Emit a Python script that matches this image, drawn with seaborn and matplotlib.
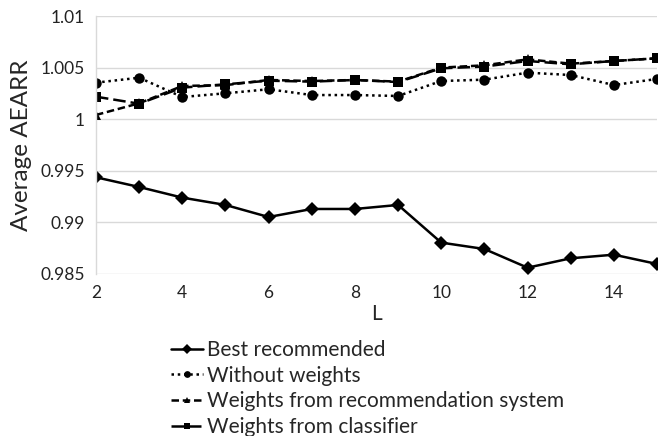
"""Average AEARR versus L for four weighting strategies."""

import matplotlib
matplotlib.use("Agg")
import matplotlib.pyplot as plt
import numpy as np
import pandas as pd
import seaborn as sns

L_values = list(range(2, 16))

best_recommended = [0.99437, 0.99343, 0.99240, 0.99169, 0.99052, 0.99130, 0.99130,
                    0.99169, 0.98804, 0.98742, 0.98561, 0.98652, 0.98687, 0.98597]
without_weights = [1.00354, 1.00402, 1.00215, 1.00251, 1.00290, 1.00234, 1.00234,
                   1.00225, 1.00370, 1.00383, 1.00451, 1.00428, 1.00331, 1.00390]
weights_recsys = [1.00041, 1.00154, 1.00322, 1.00330, 1.00380, 1.00370, 1.00380,
                  1.00364, 1.00500, 1.00522, 1.00580, 1.00538, 1.00564, 1.00590]
weights_classifier = [1.00218, 1.00150, 1.00306, 1.00338, 1.00373, 1.00364, 1.00380,
                      1.00360, 1.00493, 1.00510, 1.00564, 1.00532, 1.00564, 1.00590]

series_names = ["Best recommended", "Without weights",
                "Weights from recommendation system", "Weights from classifier"]
series_values = [best_recommended, without_weights, weights_recsys, weights_classifier]

y_ticks = [0.985, 0.99, 0.995, 1.0, 1.005, 1.01]
y_tick_labels = ["0.985", "0.99", "0.995", "1", "1.005", "1.01"]
x_ticks = [2, 4, 6, 8, 10, 12, 14]

df = pd.concat(
    [pd.DataFrame({"L": L_values, "AEARR": vals, "series": name})
     for name, vals in zip(series_names, series_values)],
    ignore_index=True,
)

sns.set_theme(style="white")
plt.rcParams["font.family"] = ["Lato", "DejaVu Sans"]

fig = plt.figure(figsize=(6.61, 4.36), dpi=100)
ax = fig.add_axes([0.1452, 0.3716, 0.8488, 0.5917])

markers = {
    "Best recommended": "D",
    "Without weights": "o",
    "Weights from recommendation system": "^",
    "Weights from classifier": "s",
}
dashes = {
    "Best recommended": "",
    "Without weights": (1, 1.5),
    "Weights from recommendation system": (3, 1.5),
    "Weights from classifier": (5, 2),
}

sns.lineplot(
    data=df, x="L", y="AEARR", hue="series", style="series",
    palette=["black"] * 4, markers=markers, dashes=dashes,
    linewidth=1.8, markersize=7.5, markeredgewidth=0, ax=ax,
)

ax.set_xlim(2, 15)
ax.set_ylim(0.985, 1.01)
ax.set_xticks(x_ticks)
ax.set_xticklabels([str(t) for t in x_ticks], fontsize=12.5)
ax.set_yticks(y_ticks)
ax.set_yticklabels(y_tick_labels, fontsize=12.5)
ax.tick_params(axis="both", length=0, pad=8, colors="#222222")
ax.yaxis.grid(True, color="#d9d9d9", linewidth=1)
ax.xaxis.grid(False)
for side in ["top", "right", "bottom"]:
    ax.spines[side].set_visible(False)
ax.spines["left"].set_color("#d9d9d9")
ax.spines["left"].set_linewidth(1)

ax.set_xlabel("L", fontsize=15, labelpad=2)
ax.set_ylabel("Average AEARR", fontsize=17.5, labelpad=6)

handles, labels = ax.get_legend_handles_labels()
ax.legend(
    handles, labels, loc="upper left", bbox_to_anchor=(171 / 661, 1 - 340 / 436),
    bbox_transform=fig.transFigure, frameon=False, fontsize=15,
    borderaxespad=0, borderpad=0, handlelength=1.55, handletextpad=0.2,
    labelspacing=0.27, markerscale=0.65,
)

fig.savefig("out.png", dpi=100)
